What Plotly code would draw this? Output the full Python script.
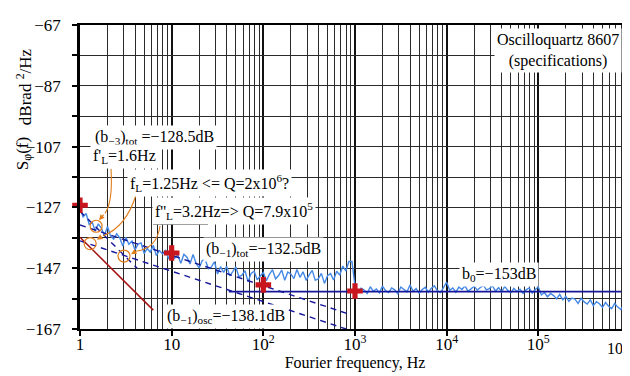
import numpy as np
import plotly.graph_objects as go

# ---------------- data ----------------
# measured phase-noise trace, 30 samples per decade, 1 Hz .. 1 MHz (dB rad^2/Hz)
noise_dec0 = [-127.2, -130.1, -129.0, -132.6, -131.9, -134.8, -132.4, -133.9, -136.2, -133.3,
              -136.4, -137.4, -135.7, -137.0, -139.7, -136.8, -139.1, -138.1, -141.0, -139.1,
              -138.7, -142.2, -140.5, -141.7, -139.5, -142.8, -141.2, -142.3, -141.0, -144.0]
noise_dec1 = [-140.8, -143.7, -142.7, -145.4, -142.4, -143.4, -145.6, -142.5, -145.4, -146.9,
              -144.5, -144.2, -147.2, -146.6, -144.8, -148.9, -146.5, -148.4, -146.4, -149.5,
              -148.1, -146.6, -149.8, -149.3, -147.8, -151.5, -148.7, -148.0, -150.8, -149.5]
noise_dec2 = [-148.4, -151.1, -149.0, -147.5, -150.5, -149.4, -147.6, -151.0, -148.3, -148.9,
              -150.4, -147.4, -150.0, -148.2, -151.0, -149.2, -147.7, -151.0, -150.5, -148.7,
              -152.0, -149.5, -148.8, -150.9, -148.0, -149.3, -146.3, -147.9, -144.8, -144.8]
noise_dec3 = [-152.8, -154.9, -153.6, -154.2, -155.3, -153.1, -154.6, -153.8, -155.1, -152.9,
              -154.4, -155.0, -153.5, -154.1, -155.4, -153.2, -153.9, -154.8, -152.5, -154.6,
              -153.7, -155.2, -154.0, -153.3, -154.9, -153.6, -152.8, -154.5, -155.0, -153.4]
noise_dec4 = [-151.6, -154.3, -153.5, -154.9, -153.2, -154.0, -152.8, -154.6, -153.9, -152.9,
              -154.2, -153.3, -152.6, -154.1, -153.7, -152.8, -154.5, -153.4, -154.8, -153.0,
              -154.3, -155.1, -153.6, -154.7, -153.9, -155.3, -154.1, -153.5, -155.2, -154.0]
noise_dec5 = [-153.2, -155.8, -155.0, -156.4, -155.3, -156.0, -157.1, -155.6, -157.4, -156.3,
              -157.9, -156.8, -157.2, -158.6, -156.9, -158.1, -158.8, -157.4, -159.3, -158.0,
              -158.7, -159.9, -158.3, -159.5, -160.3, -158.6, -159.8, -160.6, -158.9, -160.4]
noise_last = [-159.4]
samples_per_decade = 30

# power-law asymptotes (frequency Hz, level dB)
b3_tot_f, b3_tot_db = [1, 4.2], [-128.3, -147.0]
b1_tot_f, b1_tot_db = [1, 900], [-132.8, -162.3]
b1_osc_f, b1_osc_db = [1, 800], [-138.0, -167.0]
b3_osc_f, b3_osc_db = [1, 6.3], [-136.8, -160.8]
b0_f, b0_db = [42, 8e5], [-154.7, -154.7]

# specification points
spec_f = [1, 10, 100, 1000]
spec_db = [-126.3, -142.0, -152.5, -154.5]

# corner-frequency markers (f'L, fL, f''L)
corner_f = [1.5, 1.29, 3.02]
corner_db = [-133.2, -138.9, -143.0]

x_tick_vals = [1, 10, 100, 1e3, 1e4, 1e5]
x_tick_text = ["1", "10", "10<sup>2</sup>", "10<sup>3</sup>", "10<sup>4</sup>", "10<sup>5</sup>"]
x_last_tick_text = "10<sup>6</sup>"
y_tick_vals = [-167, -157, -147, -137, -127, -117, -107, -97, -87, -77, -67]
y_tick_text = ["\u2212167", "", "\u2212147", "", "\u2212127", "", "\u2212107", "", "\u221287", "", "\u221267"]

# ---------------- figure ----------------
noise_db = noise_dec0 + noise_dec1 + noise_dec2 + noise_dec3 + noise_dec4 + noise_dec5 + noise_last
noise_f = 10 ** (np.arange(len(noise_db)) / samples_per_decade)

SERIF = "Liberation Serif"
NAVY = "#16169a"
ORANGE = "#e07e1c"

fig = go.Figure()
fig.add_trace(go.Scatter(x=noise_f, y=noise_db, mode="lines",
                         line=dict(color="#4589e6", width=1.4), hoverinfo="skip"))
for fx, fy in [(b3_tot_f, b3_tot_db), (b1_tot_f, b1_tot_db), (b1_osc_f, b1_osc_db)]:
    fig.add_trace(go.Scatter(x=fx, y=fy, mode="lines",
                             line=dict(color=NAVY, width=1.4, dash="6px,5px")))
fig.add_trace(go.Scatter(x=b3_osc_f, y=b3_osc_db, mode="lines",
                         line=dict(color="#a31212", width=1.5)))
fig.add_trace(go.Scatter(x=b0_f, y=b0_db, mode="lines",
                         line=dict(color=NAVY, width=1.6)))
fig.add_trace(go.Scatter(x=corner_f, y=corner_db, mode="markers",
                         marker=dict(symbol="circle-open", size=12, color=ORANGE,
                                     line=dict(color=ORANGE, width=1.2))))
fig.add_trace(go.Scatter(x=spec_f, y=spec_db, mode="markers", cliponaxis=False,
                         marker=dict(symbol="cross", size=13, color="#c8161e",
                                     line=dict(width=0))))

L, T, W, H = 72, 8, 550, 313


def P(px, py):
    return (px - L) / W, 1 - (py - T) / H


def label(text, px, py, anchor="left", size=16):
    x, y = P(px, py)
    fig.add_annotation(x=x, y=y, xref="paper", yref="paper", text=text, showarrow=False,
                       xanchor=anchor, yanchor="middle", bgcolor="white", borderpad=2,
                       font=dict(family=SERIF, size=size, color="black"))


label("Oscilloquartz 8607<br>(specifications)", 550, 34, anchor="center")
label("(b<sub>\u22123</sub>)<sub>tot</sub> =\u2212128.5dB", 84, 124)
label("f'<sub>L</sub>=1.6Hz", 82, 143)
label("f<sub>L</sub>=1.25Hz &lt;= Q=2x10<sup>6</sup>?", 119, 171)
label("f''<sub>L</sub>=3.2Hz=&gt; Q=7.9x10<sup>5</sup>", 144, 200)
label("(b<sub>\u22121</sub>)<sub>tot</sub>=\u2212132.5dB", 195, 239)
label("(b<sub>\u22121</sub>)<sub>osc</sub>=\u2212138.1dB", 156, 308)
label("b<sub>0</sub>=\u2212153dB", 451, 265)

# underlines
for x0, x1, yy in [(83, 143, 154), (120, 188, 181), (145, 200, 213)]:
    a, b = P(x0, yy)
    c, _ = P(x1, yy)
    fig.add_shape(type="line", xref="paper", yref="paper", x0=a, y0=b, x1=c, y1=b,
                  line=dict(color="black", width=1.2))

# curved orange callouts
for start, ctrl, tail, tip in [((103, 156), (105, 190), (97, 202), (91, 209)),
                               ((128, 183), (118, 216), (95, 225), (89, 229)),
                               ((152, 215), (149, 238), (128, 241), (123, 244))]:
    s, c, t = P(*start), P(*ctrl), P(*tail)
    fig.add_shape(type="path", xref="paper", yref="paper",
                  path=f"M {s[0]},{s[1]} Q {c[0]},{c[1]} {t[0]},{t[1]}",
                  line=dict(color=ORANGE, width=1.1))
    tp = P(*tip)
    fig.add_annotation(x=tp[0], y=tp[1], xref="paper", yref="paper", text="",
                       showarrow=True, ax=tail[0] - tip[0], ay=tail[1] - tip[1],
                       arrowhead=2, arrowsize=1, arrowwidth=1.1, arrowcolor=ORANGE, standoff=0)

# last x tick label, kept inside the page
lx, ly = P(627, 340)
fig.add_annotation(x=lx, y=ly, xref="paper", yref="paper",
                   text=x_last_tick_text, showarrow=False, xanchor="right", yanchor="middle",
                   xshift=-4,
                   font=dict(family=SERIF, size=16, color="black"))

# y-axis title pieces
xa, ya = P(16, 72)
fig.add_annotation(x=xa, y=ya, xref="paper", yref="paper", text="dBrad <sup>2</sup>/Hz",
                   textangle=-90, showarrow=False, xanchor="center", yanchor="middle",
                   font=dict(family=SERIF, size=17, color="black"))
xa, ya = P(16, 141)
fig.add_annotation(x=xa, y=ya, xref="paper", yref="paper", text="S<sub>\u03c6</sub>(f)",
                   textangle=-90, showarrow=False, xanchor="center", yanchor="middle",
                   font=dict(family=SERIF, size=17, color="black"))

fig.update_layout(
    width=630, height=376,
    margin=dict(l=L, r=630 - L - W, t=T, b=376 - T - H),
    paper_bgcolor="white", plot_bgcolor="white",
    showlegend=False,
    font=dict(family=SERIF, size=16, color="black"),
    xaxis=dict(type="log", range=[0, 6], tickvals=x_tick_vals, ticktext=x_tick_text,
               showgrid=True, gridcolor="#111111", gridwidth=2,
               minor=dict(dtick="D1", showgrid=True, gridcolor="#2a2a2a", gridwidth=1.2, ticks=""),
               showline=True, linecolor="black", linewidth=2, mirror=True,
               ticks="outside", ticklen=5, tickwidth=2, tickcolor="black",
               ticklabelstandoff=-6,
               title=dict(text="Fourier frequency, Hz", standoff=2,
                          font=dict(family=SERIF, size=16)),
               tickfont=dict(family=SERIF, size=17), zeroline=False),
    yaxis=dict(range=[-167, -67], tickvals=y_tick_vals, ticktext=y_tick_text,
               showgrid=True, gridcolor="#2a2a2a", gridwidth=1.2,
               showline=True, linecolor="black", linewidth=2.5,
               ticks="outside", ticklen=5, tickwidth=1.5, tickcolor="black",
               ticklabelstandoff=8,
               tickfont=dict(family=SERIF, size=17), zeroline=False),
)

fig.write_html("out.html")
